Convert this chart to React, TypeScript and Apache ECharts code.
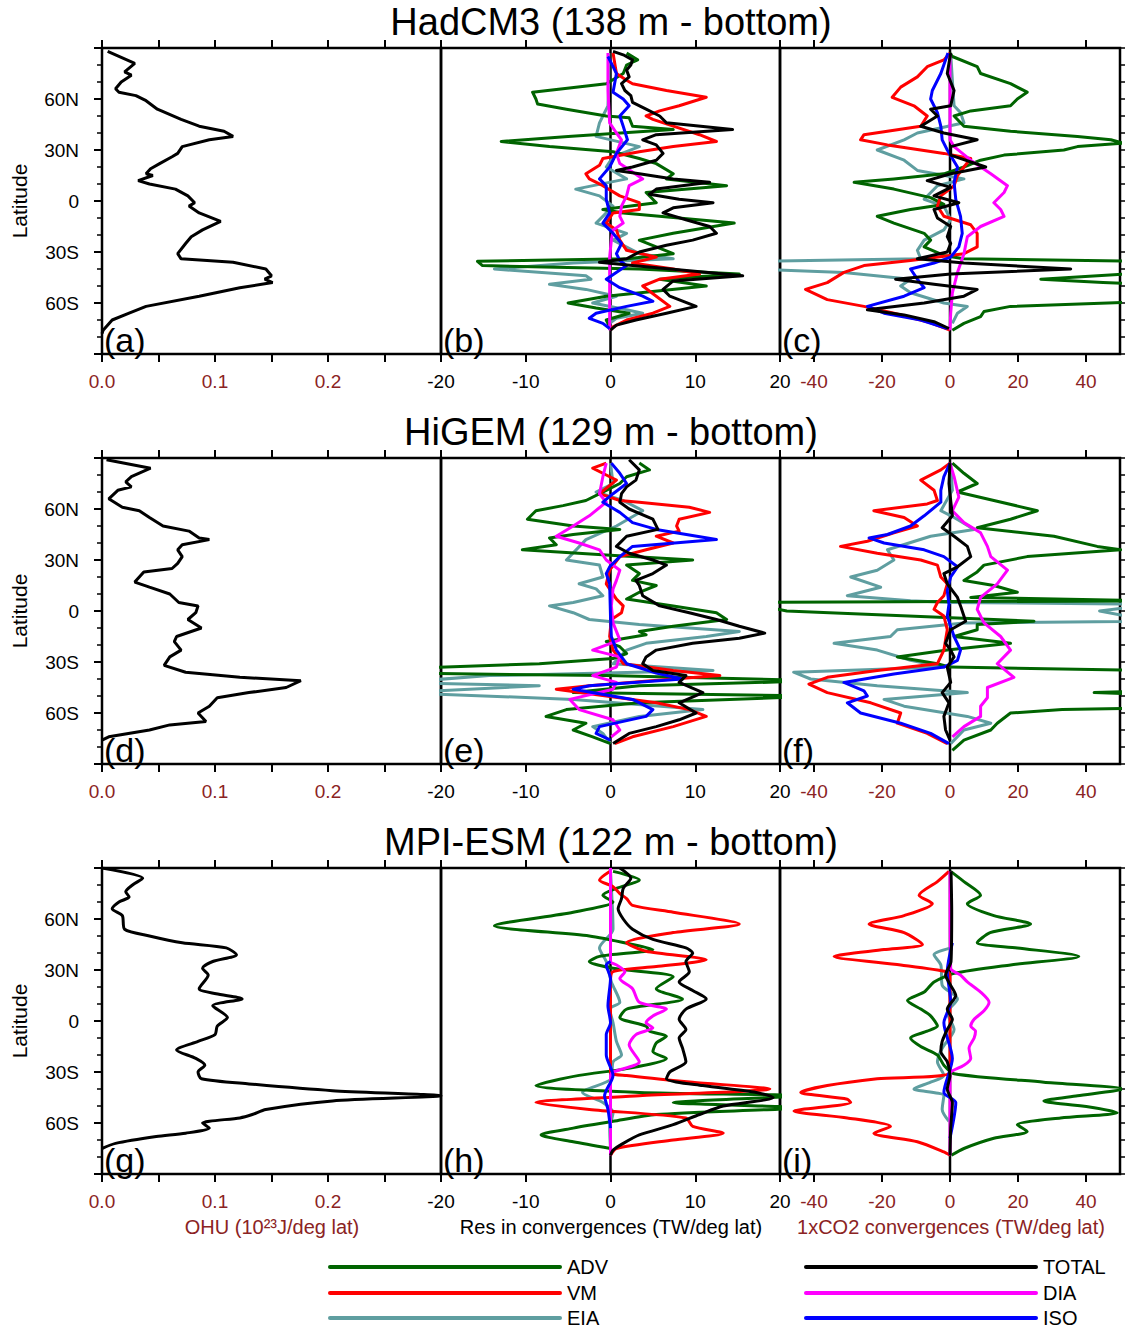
import React, { useEffect, useRef } from "react";
import * as echarts from "echarts";

type Profile = [number, number][]; // [latitude, value]

// ---------------- tick labels / texts ----------------
const LAT_TICK_LABELS = [-60, -30, 0, 30, 60];
const OHU_TICK_LABELS = [0, 0.1, 0.2];
const RES_TICK_LABELS = [-20, -10, 0, 10, 20];
const CO2_TICK_LABELS = [-40, -20, 0, 20, 40];
const TITLES = ["HadCM3 (138 m - bottom)", "HiGEM (129 m - bottom)", "MPI-ESM (122 m - bottom)"];
const PANEL_LABELS = [["(a)", "(b)", "(c)"], ["(d)", "(e)", "(f)"], ["(g)", "(h)", "(i)"]];
const AXIS_TITLES = ["OHU (10²³J/deg lat)", "Res in convergences (TW/deg lat)", "1xCO2 convergences (TW/deg lat)"];
const TERMS = ["ADV", "VM", "EIA", "TOTAL", "DIA", "ISO"];

// ---------------- HadCM3 ----------------
const hadOHU: Profile = [[88,0.005],[81,0.029],[76,0.02],[74,0.026],[70,0.017],[66,0.012],[64,0.015],[62,0.03],[59,0.039],[54,0.049],[48,0.07],[44,0.086],[41,0.108],[38,0.116],[36,0.095],[32,0.071],[28,0.067],[26,0.062],[22,0.051],[19,0.043],[16,0.039],[15,0.045],[12,0.032],[10,0.042],[7,0.065],[3,0.076],[-1,0.082],[-3,0.077],[-7,0.086],[-12,0.105],[-17,0.089],[-21,0.079],[-25,0.074],[-31,0.067],[-34,0.07],[-36,0.116],[-40,0.145],[-44,0.15],[-46,0.144],[-48,0.151],[-51,0.122],[-56,0.086],[-62,0.039],[-66,0.024],[-70,0.009],[-76,0.001],[-78,0]];

const hadRes_ADV: Profile = [[87,1.9],[83,3.2],[80,1.9],[75,1.5],[69,-0.5],[64,-9.2],[60,-8.8],[57,-8.6],[54,-5.2],[50,-0.5],[49,2.2],[44,2.6],[42,7.4],[38,-5],[35,-12.9],[32,-7.2],[29,0.3],[25,3.4],[22,5.4],[16,7.4],[13,6.6],[9,13.7],[5,4.2],[-1,5.4],[-5,-0.9],[-7,1.5],[-13,14.6],[-19,7.4],[-23,3.4],[-27,5.4],[-31,7.4],[-34,2.0],[-35.5,-15.7],[-38,-15.1],[-40,3.4],[-43,15.2],[-46,5.8],[-50,11.3],[-56,-0.5],[-60,-5.0],[-63,-1.7],[-66,2.2],[-70,-0.5],[-74,-0.1]];
const hadRes_VM: Profile = [[87,0.3],[75,0.7],[71,1.9],[69,2.6],[65,6.6],[61,11.3],[56,8.1],[53,5.8],[50,4.2],[48,5.0],[44,7.4],[39,10.5],[35,12.5],[32,7.4],[29,3.4],[25,-0.9],[21,-1.3],[16,-2.9],[13,-2.5],[9,-0.9],[3,1.1],[-1,3.4],[-5,3.4],[-7,0.3],[-13,-0.5],[-17,0.7],[-23,1.1],[-29,1.9],[-33,5.4],[-36.5,2.6],[-40,7.4],[-43,10.5],[-46,5.8],[-50,3.8],[-56,5.4],[-62,7.0],[-66,5.0],[-70,1.9],[-74,0.3],[-76,0]];
const hadRes_EIA: Profile = [[87,-0.2],[71,-0.2],[56,-0.3],[50,-0.9],[46,-1.3],[38,-1.7],[32,3.4],[26,0.3],[20,-0.5],[13,1.9],[7,-4.1],[3,-1.3],[-3,0.3],[-13,-1.7],[-19,1.9],[-23,0.3],[-31,3.4],[-34,7.4],[-36.5,-4.4],[-40,-13.7],[-44,-2.9],[-46,-2.3],[-49,-7.2],[-52,-2.9],[-56,0.7],[-60,-2.1],[-64,1.9],[-66,3.8],[-69,0.7],[-72,-0.1]];
const hadRes_TOTAL: Profile = [[88,0.3],[86,1.5],[83,2.6],[80,2.4],[77,1.9],[73,2.2],[69,1.3],[65,1.7],[62,2.4],[58,2.6],[54,4.2],[50,5.8],[46,6.6],[42,14.4],[39,5.4],[36,3.8],[33,5.4],[28,6.2],[24,5.4],[20,2.6],[18,0.7],[16,3.4],[13,7.4],[11,11.7],[7,5.4],[4,4.6],[1,8.1],[-1,12.1],[-4,7.4],[-7,6.2],[-11,8.9],[-15,11.7],[-19,12.5],[-23,9.7],[-26,6.6],[-30,3.4],[-34,1.9],[-36,-1.3],[-38,2.6],[-41,9.3],[-44,15.6],[-47,7.4],[-52,6.2],[-56,7.0],[-62,10.1],[-66,6.6],[-70,3.0],[-73,0.7],[-76,0]];
const hadRes_DIA: Profile = [[87,-0.3],[65,-0.3],[46,-0.1],[40,0.7],[36,1.3],[28,0.7],[22,1.1],[17,2.6],[13,3.8],[9,2.2],[3,1.9],[-3,1.3],[-9,1.1],[-13,1.5],[-17,0.3],[-23,0.1],[-33,-0.1],[-76,-0.1]];
const hadRes_ISO: Profile = [[85,-0.3],[79,0.3],[75,0.7],[64,0.3],[60,1.5],[56,2.2],[50,1.1],[44,1.5],[36,2.0],[28,0.7],[20,-0.1],[13,-1.3],[9,-0.5],[1,-0.5],[-7,-0.1],[-13,-0.9],[-19,0.3],[-25,1.3],[-31,0.7],[-35,1.1],[-38,1.9],[-46,-0.5],[-51,1.1],[-56,3.8],[-59,5.0],[-62,1.9],[-66,-1.7],[-69,-2.5],[-72,-0.9],[-75,-0.1]];

const hadCo2_ADV: Profile = [[87,0],[85,0.7],[79,8.0],[75,9.0],[69,17.8],[64,22.7],[60,19.8],[56,17.8],[53,6.1],[50,1.2],[44,4.1],[41,17.8],[38,37.5],[36,47.3],[34,51],[32,37.5],[30,33.5],[27,15.9],[24,9.0],[20,4.1],[16,-1.8],[13,-16.5],[11,-28.2],[7,-16.5],[2,-5.7],[-2,-1.8],[-5,-11.6],[-9,-21.4],[-13,-16.5],[-19,-7.6],[-23,-5.7],[-27,-7.6],[-32,-1.8],[-34,4.0],[-35.5,60],[-42,60],[-45,35],[-46,26.7],[-48,45],[-49,60],[-59,60],[-62,17.8],[-65,10.0],[-68,9.0],[-72,4.1],[-76,0.7]];
const hadCo2_VM: Profile = [[87,0],[83,-1.8],[79,-6.7],[73,-9.6],[67,-14.5],[61,-17.0],[56,-10.6],[50,-6.7],[44,-8.6],[39,-25.3],[36,-26.3],[33,-18.4],[28,-1.8],[25,6.1],[20,4.1],[15,2.2],[9,1.2],[3,-2.7],[-3,-3.7],[-9,-1.8],[-14,6.1],[-19,8.0],[-27,8.0],[-31,4.1],[-35,-11.6],[-38,-25.3],[-42,-31.2],[-48,-36.1],[-52,-42.5],[-58,-36.1],[-62,-25.3],[-66,-16.5],[-71,-6.7],[-76,0]];
const hadCo2_EIA: Profile = [[87,0.2],[71,0.7],[56,1.2],[52,3.1],[46,4.1],[40,-9.6],[36,-13.5],[30,-21.4],[24,-13.5],[18,-9.6],[13,4.1],[9,-3.7],[1,-7.6],[-3,-1.8],[-11,0.2],[-17,-1.8],[-23,-7.6],[-29,-9.6],[-34,-8.6],[-35.5,-60],[-40,-60],[-42,-31.2],[-46,-11.6],[-50,-14.5],[-54,-11.6],[-60,-1.8],[-62,5.1],[-66,2.2],[-72,0.7]];
const hadCo2_TOTAL: Profile = [[87,0.2],[75,-0.8],[65,1.2],[56,0.2],[54,-5.7],[50,-3.7],[44,-8.6],[40,-1.8],[36,8.0],[32,0.2],[27,0.2],[20,10.5],[16,0.2],[12,-6.7],[8,0.2],[3,-4.7],[-1,2.6],[-5,-4.7],[-10,-3.7],[-15,0.2],[-21,-0.8],[-25,0.2],[-30,-0.8],[-34,-9.6],[-36.5,4.1],[-40,35.5],[-43,0.2],[-46,-16],[-49,-4.7],[-52,8.0],[-56,4.1],[-60,-7.6],[-64,-24.3],[-67,-13.5],[-71,-4.7],[-75,-0.3]];
const hadCo2_DIA: Profile = [[87,0],[36,0],[32,1.2],[24,6.1],[16,12.0],[9,16.9],[5,15.9],[-1,12.9],[-5,14.9],[-9,15.9],[-15,9.0],[-21,5.1],[-31,4.1],[-42,2.2],[-54,0.7],[-66,0.2],[-76,0]];
const hadCo2_ISO: Profile = [[87,-0.6],[75,-2.7],[65,-5.2],[60,-5.7],[52,-3.7],[44,-2.7],[36,-2.3],[30,-0.8],[20,2.2],[11,1.2],[1,1.7],[-9,3.1],[-19,3.6],[-27,2.6],[-33,0.2],[-36.5,-4.7],[-40,-11.6],[-46,-9.6],[-51,-7.6],[-56,-13.5],[-62,-24.3],[-66,-19.4],[-70,-8.6],[-75,-0.8]];

// ---------------- HiGEM ----------------
const higOHU: Profile = [[89,0.004],[84,0.043],[79,0.026],[76,0.021],[73,0.026],[71,0.014],[66,0.006],[61,0.018],[59,0.033],[55,0.042],[50,0.054],[47,0.077],[43,0.086],[42,0.095],[39,0.071],[36,0.067],[32,0.071],[28,0.067],[25,0.062],[23,0.037],[17,0.029],[14,0.042],[10,0.06],[5,0.068],[3,0.085],[-1,0.083],[-5,0.076],[-10,0.088],[-15,0.066],[-18,0.064],[-23,0.07],[-27,0.06],[-32,0.055],[-36,0.074],[-39,0.122],[-41,0.176],[-45,0.163],[-48,0.13],[-51,0.102],[-56,0.095],[-60,0.085],[-65,0.092],[-67,0.06],[-70,0.042],[-74,0.006],[-76,0]];

const higRes_ADV: Profile = [[87,3.4],[83,4.6],[79,1.9],[75,1.1],[71,-0.5],[65,-2.9],[62,-5.6],[59,-8.8],[54,-9.8],[50,-4.4],[48,1.1],[45,-4.4],[43,-7.2],[39,-6.4],[36,-10.4],[33,-0.5],[30,9.7],[27,1.9],[22,3.4],[18,2.6],[15,5.4],[11,3.4],[7,1.9],[3,7.4],[-1,12.5],[-5,13.7],[-9,7.4],[-12,3.4],[-14,4.2],[-18,-0.5],[-21,1.1],[-25,1.9],[-28,0.3],[-31,-8.4],[-34,-25],[-36.5,-25],[-38,-0.5],[-41,25],[-44,3.4],[-48,-4.4],[-50,25],[-54,3.4],[-58,-5.2],[-62,-7.6],[-66,-2.9],[-70,-4.4],[-74,-2.1],[-78,0]];
const higRes_VM: Profile = [[87,-0.5],[84,-2.1],[80,-0.5],[77,0.7],[69,-1.3],[65,1.1],[64,3.4],[61,9.3],[58,11.7],[54,8.1],[50,7.8],[47,8.1],[44,5.4],[40,7.4],[36,4.2],[32,1.1],[24,-0.1],[16,-0.5],[7,0.7],[3,1.5],[-1,1.3],[-5,0.1],[-15,-0.1],[-23,0.3],[-31,1.5],[-35,7.4],[-38,12.9],[-40,7.4],[-44,-2.5],[-46,-6.4],[-50,-0.5],[-54,5.4],[-58,9.3],[-62,11.3],[-68,7.4],[-74,2.6],[-78,0.5]];
const higRes_EIA: Profile = [[87,0],[75,0.3],[70,-1.7],[65,1.5],[59,3.8],[50,0.7],[42,-2.9],[30,-5.2],[27,-1.3],[20,-0.9],[16,-3.7],[13,-1.7],[9,-0.9],[5,-4.4],[3,-7.2],[-1,-4.4],[-5,-2.5],[-8,3.4],[-12,15.2],[-15,11.3],[-19,4.2],[-23,1.9],[-31,0.3],[-35,12.1],[-38,-14.3],[-42,-25],[-44,-8.4],[-48,-25],[-52,-4.4],[-58,10.9],[-62,3.4],[-68,-2.1],[-72,-0.9],[-78,0]];
const higRes_TOTAL: Profile = [[89,2.2],[83,3.4],[77,3.0],[73,1.9],[69,1.3],[64,1.1],[60,2.2],[54,5.0],[48,5.6],[44,1.9],[38,0.7],[34,2.2],[30,5.0],[27,6.6],[22,5.0],[18,3.0],[15,3.4],[9,3.8],[3,5.8],[-1,9.3],[-5,12.5],[-9,15.2],[-13,18.2],[-16,15.2],[-19,9.7],[-23,5.4],[-27,4.2],[-31,3.8],[-35,5.0],[-38,8.9],[-42,8.1],[-48,10.9],[-54,8.1],[-60,10.1],[-64,8.1],[-68,5.4],[-72,2.2],[-78,0.3]];
const higRes_DIA: Profile = [[87,-0.5],[79,-0.9],[69,-1.3],[64,-0.5],[56,-2.5],[50,-4.4],[44,-6.4],[40,-3.7],[36,-1.3],[30,-0.5],[24,1.1],[18,0.7],[13,0.3],[3,0.1],[-7,0.3],[-17,1.1],[-23,-2.1],[-27,1.1],[-33,0.7],[-38,-2.1],[-42,0.7],[-46,0.3],[-52,-4.8],[-58,-3.7],[-64,0.3],[-70,1.1],[-74,0.1]];
const higRes_ISO: Profile = [[87,0.1],[81,1.1],[75,1.9],[69,0.3],[64,-0.9],[58,1.1],[52,2.6],[48,5.4],[42,12.5],[38,2.6],[32,1.1],[26,-0.1],[22,-0.5],[16,-0.1],[-3,0],[-15,0.1],[-23,0.7],[-31,1.9],[-36.5,5.4],[-40,8.5],[-44,-2.5],[-46,-4.4],[-52,2.6],[-58,5.0],[-62,4.2],[-68,-1.3],[-72,-1.7],[-76,0]];

const higCo2_ADV: Profile = [[87,0.7],[81,4.1],[75,8.0],[70,2.2],[65,12.9],[59,25.7],[54,17.8],[49,8.0],[44,30.6],[38,43.3],[36,50.2],[32,22.7],[27,10.0],[23,8.0],[18,4.1],[15,12.9],[11,19.8],[8,6.1],[6,60],[5,-60],[0,-48],[-6,24.7],[-8,8.0],[-11,8.0],[-15,1.2],[-19,17.8],[-23,-0.8],[-27,-15.5],[-31,-3.7],[-33,0],[-35,60],[-47,60],[-48,42.4],[-49,60],[-57,60],[-58,33],[-60,17.8],[-66,13.9],[-70,12],[-76,4.1],[-82,0.7]];
const higCo2_VM: Profile = [[87,0],[83,-2.7],[77,-8.6],[71,-4.7],[65,-3.7],[63,-6.7],[59,-22.4],[55,-13.5],[50,-9.6],[46,-16.5],[41,-24.3],[38,-32.2],[34,-21.4],[30,-8.6],[27,-3.7],[20,-2.7],[16,-0.8],[9,-1.8],[5,-3.7],[1,-4.7],[-3,-1.8],[-11,-0.8],[-23,-1.8],[-31,-3.7],[-35,-21.4],[-39,-36.1],[-43,-41.5],[-48,-36.1],[-54,-23.3],[-60,-14.5],[-66,-15.5],[-72,-6.7],[-78,-0.8]];
const higCo2_EIA: Profile = [[87,0.2],[71,0.7],[59,-2.7],[55,1.2],[48,7.1],[44,-5.7],[36,-18.4],[30,-16.5],[24,-21.4],[20,-29.2],[14,-20.4],[9,-30.2],[6,-11.6],[5,0.2],[4,60],[0,44],[-6,60],[-7,4.1],[-11,-15.5],[-15,-17.5],[-19,-34.1],[-23,-21.4],[-29,-11.6],[-33,-1.8],[-36,-46],[-40,-41],[-44,-21.4],[-48,5.1],[-52,-19.4],[-56,-13.5],[-62,5.1],[-66,12.0],[-70,4.1],[-78,0.2]];
const higCo2_TOTAL: Profile = [[87,0],[75,-0.3],[65,0.2],[56,0.7],[49,-2.3],[44,1.2],[38,5.1],[32,6.1],[26,2.2],[22,-1.8],[16,-0.8],[8,2.2],[3,3.1],[-6,4.6],[-11,0.2],[-19,-1.3],[-23,0.2],[-27,1.2],[-33,-0.8],[-42,0.2],[-48,-2.3],[-54,-0.3],[-62,-1.8],[-70,-1.3],[-76,0]];
const higCo2_DIA: Profile = [[87,0],[79,1.2],[67,2.6],[59,0.7],[52,4.1],[46,9.0],[38,11.0],[32,12.0],[24,16.9],[16,13.9],[8,9.0],[1,8.0],[-7,10.0],[-15,14.9],[-23,17.8],[-31,13.9],[-39,18.8],[-45,11.0],[-51,11.0],[-56,9.0],[-62,9.0],[-68,4.1],[-74,0.7]];
const higCo2_ISO: Profile = [[87,0],[79,-1.8],[71,-2.7],[64,-2.7],[56,-7.6],[50,-11.6],[45,-18.4],[43,-23.8],[40,-19.4],[36,-7.6],[32,-1.8],[26,2.2],[20,0.2],[12,-0.8],[4,-0.3],[-3,-0.8],[-15,1.2],[-23,3.1],[-29,2.2],[-33,-1.8],[-37,-16.5],[-42,-31.2],[-47,-25.3],[-50,-24.3],[-54,-30.2],[-60,-26.3],[-66,-14.5],[-72,-5.7],[-78,-0.3]];

// ---------------- MPI-ESM ----------------
const mpiOHU: Profile = [[90,0],[84,0.036],[80,0.027],[76,0.021],[73,0.024],[70,0.015],[66,0.009],[62,0.018],[54,0.02],[50,0.042],[46,0.071],[43,0.11],[39,0.119],[35,0.098],[31,0.089],[27,0.094],[19,0.086],[16,0.101],[13,0.124],[9,0.098],[2,0.111],[-3,0.102],[-8,0.1],[-12,0.085],[-17,0.066],[-22,0.083],[-26,0.091],[-30,0.085],[-34,0.088],[-37,0.13],[-41,0.204],[-44,0.3],[-47,0.204],[-52,0.145],[-55,0.133],[-57,0.122],[-60,0.089],[-63,0.095],[-66,0.074],[-68,0.048],[-72,0.012],[-75,0]];

const mpiRes_ADV: Profile = [[88,0.3],[83,3.4],[78,0.7],[74,-0.9],[70,0.3],[64,-4.4],[56,-13.7],[50,-2.5],[45,2.6],[42,5.0],[38,-1.3],[35,-2.5],[31,0.3],[26,7.4],[19,5.4],[13,8.5],[7,1.9],[2,1.1],[-3,4.2],[-6,4.6],[-9,6.6],[-13,5.4],[-18,5.0],[-22,6.6],[-28,1.9],[-32,-3.7],[-38,-8.8],[-42,3.4],[-44,22],[-48,7.4],[-51,22],[-55,5.4],[-59,0.3],[-63,-4.4],[-67,-8.2],[-71,-4.4],[-75,0]];
const mpiRes_VM: Profile = [[88,-0.1],[83,-1.3],[79,0.3],[75,1.1],[72,1.9],[68,2.6],[64,7.4],[57,15.2],[52,7.4],[46,1.9],[41,4.2],[36,11.3],[32,5.4],[29,0.3],[23,0],[-30,0],[-32,1.9],[-36,9.7],[-40,18.8],[-44,3.4],[-48,-8.8],[-52,-2.5],[-57,8.9],[-62,9.7],[-66,13.3],[-70,7.4],[-75,0.7],[-79,0]];
const mpiRes_EIA: Profile = [[88,0],[54,0.3],[43,-1.3],[35,-0.5],[23,0.1],[11,1.1],[7,-0.1],[-1,0.3],[-12,0.7],[-20,1.3],[-24,0.3],[-34,0.1],[-42,-3.3],[-48,-0.9],[-54,0.3],[-63,-0.1],[-75,0]];
const mpiRes_TOTAL: Profile = [[90,1.1],[84,2.4],[78,1.5],[72,1.3],[66,0.9],[60,1.5],[54,2.6],[48,5.0],[43,8.9],[40,9.7],[35,8.9],[29,9.3],[23,8.1],[18,9.7],[13,11.3],[7,8.9],[1,8.1],[-5,8.9],[-10,8.1],[-16,8.5],[-24,8.9],[-30,7.0],[-34,6.6],[-38,10.9],[-42,17.2],[-45,19.2],[-50,13.3],[-55,10.5],[-61,7.4],[-67,3.4],[-72,1.5],[-76,0.3],[-79,0]];
const mpiRes_DIA: Profile = [[90,0],[35,0],[33,0.7],[29,1.7],[25,1.1],[19,2.6],[11,3.4],[7,6.6],[3,5.0],[-1,4.2],[-4,5.0],[-8,3.0],[-14,2.2],[-24,3.4],[-30,0.3],[-32,0],[-79,0]];
const mpiRes_ISO: Profile = [[35,0],[33,-0.5],[25,0],[9,-0.3],[-1,0],[-8,-0.5],[-20,-0.5],[-32,0.3],[-44,-0.7],[-52,-0.3],[-63,0]];

const mpiCo2_ADV: Profile = [[88,0.2],[82,4.1],[74,9.0],[69,5.1],[62,12.9],[57,23.7],[52,11.8],[46,8.0],[43,19.8],[38,37.9],[33,17.8],[28,1.2],[23,-4.7],[17,-7.6],[12,-12.5],[7,-8.6],[3,-5.7],[-3,-3.7],[-6,-6.7],[-10,-11.6],[-15,-8.6],[-20,-3.7],[-26,-1.8],[-31,1.2],[-36,27.6],[-40,51],[-44,37.5],[-47,27.6],[-51,42.4],[-54,49.2],[-57,32.5],[-61,19.8],[-65,22.7],[-69,12.9],[-75,4.1],[-79,0.4]];
const mpiCo2_VM: Profile = [[88,-0.3],[82,-3.7],[74,-9.1],[69,-5.2],[62,-13.5],[57,-23.8],[52,-13.5],[45,-8.1],[42,-19.4],[38,-34.1],[33,-14.5],[29,-0.8],[27,0],[-30,0],[-34,-21.4],[-38,-36.1],[-42,-43.9],[-46,-30.2],[-48,-29.2],[-53,-45.9],[-57,-30.2],[-62,-17.5],[-66,-22.4],[-71,-9.6],[-77,-1.8],[-79,0]];
const mpiCo2_EIA: Profile = [[43,0.2],[39,-4.7],[33,-2.7],[21,-2.3],[13,2.2],[5,-0.8],[-5,1.2],[-16,-2.3],[-24,-3.7],[-32,-1.8],[-36,-5.7],[-40,-10.6],[-44,-1.8],[-52,-2.3],[-59,-0.3]];
const mpiCo2_TOTAL: Profile = [[88,0.3],[64,0.5],[35,0.3],[27,-1.3],[21,0.2],[15,1.7],[7,-0.8],[1,0.7],[-5,-0.8],[-12,-2.3],[-18,-2.7],[-24,-0.8],[-32,0],[-40,-0.8],[-48,0.7],[-63,0.2],[-79,0]];
const mpiCo2_DIA: Profile = [[88,0],[31,0.2],[27,3.1],[23,5.1],[17,9.0],[11,11.5],[6,10.0],[1,7.1],[-3,6.1],[-6,7.5],[-10,7.1],[-16,5.6],[-22,6.1],[-26,4.1],[-30,0.2],[-32,0],[-79,0]];
const mpiCo2_ISO: Profile = [[46,0.7],[29,-0.8],[11,0.2],[-1,-1.8],[-22,0.7],[-42,-1.8],[-48,1.7],[-69,0]];

// ---------------- assembly ----------------
const COLORS: Record<string, string> = {
  ADV: "#006400", VM: "#ff0000", EIA: "#5f9ea0", TOTAL: "#000000", DIA: "#ff00ff", ISO: "#0000ff",
};
const DRAW_ORDER = ["EIA", "ADV", "VM", "DIA", "ISO", "TOTAL"];
const DARK_RED = "#8b2323";
const FONT = "'Liberation Sans', Arial, Helvetica, sans-serif";

const ROWS = [
  {
    ohu: hadOHU,
    res: { ADV: hadRes_ADV, VM: hadRes_VM, EIA: hadRes_EIA, TOTAL: hadRes_TOTAL, DIA: hadRes_DIA, ISO: hadRes_ISO } as Record<string, Profile>,
    co2: { ADV: hadCo2_ADV, VM: hadCo2_VM, EIA: hadCo2_EIA, TOTAL: hadCo2_TOTAL, DIA: hadCo2_DIA, ISO: hadCo2_ISO } as Record<string, Profile>,
    smooth: false,
  },
  {
    ohu: higOHU,
    res: { ADV: higRes_ADV, VM: higRes_VM, EIA: higRes_EIA, TOTAL: higRes_TOTAL, DIA: higRes_DIA, ISO: higRes_ISO } as Record<string, Profile>,
    co2: { ADV: higCo2_ADV, VM: higCo2_VM, EIA: higCo2_EIA, TOTAL: higCo2_TOTAL, DIA: higCo2_DIA, ISO: higCo2_ISO } as Record<string, Profile>,
    smooth: false,
  },
  {
    ohu: mpiOHU,
    res: { ADV: mpiRes_ADV, VM: mpiRes_VM, EIA: mpiRes_EIA, TOTAL: mpiRes_TOTAL, DIA: mpiRes_DIA, ISO: mpiRes_ISO } as Record<string, Profile>,
    co2: { ADV: mpiCo2_ADV, VM: mpiCo2_VM, EIA: mpiCo2_EIA, TOTAL: mpiCo2_TOTAL, DIA: mpiCo2_DIA, ISO: mpiCo2_ISO } as Record<string, Profile>,
    smooth: true,
  },
];

const GRID_LEFT = [102, 441, 780];
const GRID_WIDTH = [339, 339, 340];
const GRID_TOP = [48, 458, 868];
const GRID_HEIGHT = 306;

function latLabel(v: number): string {
  if (Math.abs(v) >= 90) return "";
  if (v === 0) return "0";
  return v > 0 ? `${v}N` : `${-v}S`;
}

function buildOption() {
  const grid: any[] = [];
  const xAxis: any[] = [];
  const yAxis: any[] = [];
  const series: any[] = [];
  const graphic: any[] = [];

  const tickStyle = { color: "#000", width: 2 };

  ROWS.forEach((row, r) => {
    for (let c = 0; c < 3; c++) {
      const gi = grid.length;
      grid.push({
        left: GRID_LEFT[c], top: GRID_TOP[r], width: GRID_WIDTH[c], height: GRID_HEIGHT,
        show: true, borderColor: "#000", borderWidth: 2.5, backgroundColor: "transparent",
      });

      let xBase: any;
      let custom: number[] | null = null;
      if (c === 0) {
        xBase = {
          min: 0, max: 0.3, interval: 0.05,
          axisLabel: {
            color: DARK_RED, fontSize: 19, fontFamily: FONT, margin: 18,
            formatter: (v: number) => (OHU_TICK_LABELS.some((t) => Math.abs(t - v) < 1e-6) ? v.toFixed(1) : ""),
          },
        };
      } else if (c === 1) {
        xBase = {
          min: -20, max: 20, interval: 10,
          axisLabel: {
            color: "#000", fontSize: 19, fontFamily: FONT, margin: 18,
            formatter: (v: number) => (RES_TICK_LABELS.includes(Math.round(v)) ? String(Math.round(v)) : ""),
          },
        };
      } else {
        custom = CO2_TICK_LABELS;
        xBase = {
          min: -50, max: 50,
          axisLabel: {
            color: DARK_RED, fontSize: 19, fontFamily: FONT, margin: 18,
            customValues: CO2_TICK_LABELS,
            formatter: (v: number) => String(Math.round(v)),
          },
        };
      }

      const xi = xAxis.length;
      xAxis.push({
        type: "value", gridIndex: gi, position: "bottom", ...xBase,
        axisLine: { show: false, onZero: false },
        splitLine: { show: false },
        axisTick: { show: true, inside: false, length: 8, lineStyle: tickStyle, ...(custom ? { customValues: custom } : {}) },
      });
      xAxis.push({
        type: "value", gridIndex: gi, position: "top", min: xBase.min, max: xBase.max,
        ...(xBase.interval ? { interval: xBase.interval } : {}),
        axisLine: { show: false, onZero: false },
        splitLine: { show: false },
        axisLabel: { show: false },
        axisTick: { show: true, inside: false, length: 8, lineStyle: tickStyle, ...(custom ? { customValues: custom } : {}) },
      });

      const yi = yAxis.length;
      yAxis.push({
        type: "value", gridIndex: gi, position: "left", min: -90, max: 90, interval: 30,
        axisLine: { show: false, onZero: false },
        splitLine: { show: false },
        axisTick: { show: c === 0, inside: false, length: 8, lineStyle: tickStyle },
        minorTick: { show: c === 0, splitNumber: 3, length: 5, lineStyle: { color: "#000", width: 1.5 } },
        axisLabel: {
          show: c === 0, color: "#000", fontSize: 19, fontFamily: FONT, margin: 23,
          formatter: (v: number) => (LAT_TICK_LABELS.includes(Math.round(v)) ? latLabel(Math.round(v)) : ""),
        },
      });
      if (c === 2) {
        yAxis.push({
          type: "value", gridIndex: gi, position: "right", min: -90, max: 90, interval: 10,
          axisLine: { show: false, onZero: false },
          splitLine: { show: false },
          axisTick: { show: true, inside: false, length: 5, lineStyle: { color: "#000", width: 1.5 } },
          axisLabel: { show: false },
        });
      }

      if (c === 0) {
        series.push({
          type: "line", name: "OHU", xAxisIndex: xi, yAxisIndex: yi,
          data: row.ohu.map(([lat, v]) => [v, lat]),
          symbol: "none", showSymbol: false, smooth: row.smooth ? 0.25 : false, clip: true, silent: true,
          lineStyle: { color: "#000", width: 3 }, z: 3,
        });
      } else {
        series.push({
          type: "line", name: "zero", xAxisIndex: xi, yAxisIndex: yi,
          data: [[0, -90], [0, 90]], symbol: "none", showSymbol: false, silent: true, clip: true,
          lineStyle: { color: "#000", width: 2.5 }, z: 2,
        });
        const set = c === 1 ? row.res : row.co2;
        DRAW_ORDER.forEach((term, k) => {
          series.push({
            type: "line", name: term, xAxisIndex: xi, yAxisIndex: yi,
            data: set[term].map(([lat, v]) => [v, lat]),
            symbol: "none", showSymbol: false, smooth: row.smooth ? 0.25 : false, clip: true, silent: true,
            lineStyle: { color: COLORS[term], width: 3, join: "round" }, z: 3 + k,
          });
        });
      }

      // panel label
      graphic.push({
        type: "text", x: GRID_LEFT[c] + 2, y: GRID_TOP[r] + GRID_HEIGHT + 3, z: 100,
        style: {
          text: PANEL_LABELS[r][c], fill: "#000", fontSize: 34, fontFamily: FONT,
          textAlign: "left", textVerticalAlign: "bottom", align: "left", verticalAlign: "bottom",
        },
      });
    }

    // row title
    graphic.push({
      type: "text", x: 611, y: GRID_TOP[r] - 26, z: 100,
      style: {
        text: TITLES[r], fill: "#000", fontSize: 38, fontFamily: FONT,
        textAlign: "center", textVerticalAlign: "middle", align: "center", verticalAlign: "middle",
      },
    });
    // Latitude
    graphic.push({
      type: "text", x: 19, y: GRID_TOP[r] + GRID_HEIGHT / 2, rotation: Math.PI / 2, z: 100,
      style: {
        text: "Latitude", fill: "#000", fontSize: 21, fontFamily: FONT,
        textAlign: "center", textVerticalAlign: "middle", align: "center", verticalAlign: "middle",
      },
    });
  });

  // axis titles (bottom row)
  const titleX = [272, 611, 951];
  const titleColor = [DARK_RED, "#000", DARK_RED];
  AXIS_TITLES.forEach((t, i) => {
    graphic.push({
      type: "text", x: titleX[i], y: 1227, z: 100,
      style: {
        text: t, fill: titleColor[i], fontSize: 20, fontFamily: FONT,
        textAlign: "center", textVerticalAlign: "middle", align: "center", verticalAlign: "middle",
      },
    });
  });

  // legend
  const legendCols = [TERMS.slice(0, 3), TERMS.slice(3, 6)];
  const colX = [330, 806];
  const rowY = [1267, 1293, 1318];
  legendCols.forEach((col, ci) => {
    col.forEach((term, ri) => {
      graphic.push({
        type: "line", z: 100,
        shape: { x1: colX[ci], y1: rowY[ri], x2: colX[ci] + 230, y2: rowY[ri] },
        style: { stroke: COLORS[term], lineWidth: 4, lineCap: "round" },
      });
      graphic.push({
        type: "text", x: colX[ci] + 237, y: rowY[ri], z: 100,
        style: {
          text: term, fill: "#000", fontSize: 20, fontFamily: FONT,
          textAlign: "left", textVerticalAlign: "middle", align: "left", verticalAlign: "middle",
        },
      });
    });
  });

  return {
    animation: false,
    backgroundColor: "#ffffff",
    textStyle: { fontFamily: FONT },
    grid, xAxis, yAxis, series, graphic,
  };
}

export default function App() {
  const ref = useRef<HTMLDivElement | null>(null);
  useEffect(() => {
    if (!ref.current) return;
    const chart = echarts.init(ref.current, undefined, { renderer: "svg" });
    chart.setOption(buildOption() as any);
    return () => chart.dispose();
  }, []);
  return (
    <div
      ref={ref}
      style={{ position: "fixed", left: 0, top: 0, width: 1128, height: 1330, background: "#fff" }}
    />
  );
}
